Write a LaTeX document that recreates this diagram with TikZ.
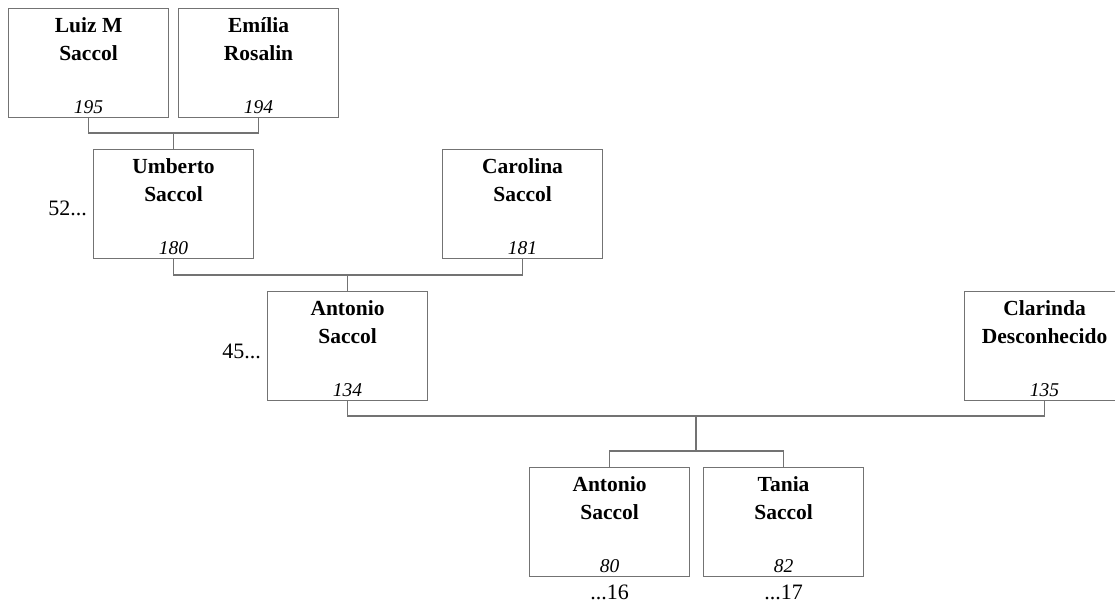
\documentclass[tikz,border=0pt]{standalone}
\usepackage{fontspec}
\setmainfont{Liberation Serif}
\begin{document}
\begin{tikzpicture}[x=1pt,y=-1pt,
  person/.style={draw=gray!90!black, line width=1.1pt, minimum width=160pt, minimum height=109pt, inner sep=0pt, anchor=north west},
  pname/.style={anchor=north, font=\bfseries\fontsize{21.5}{28}\selectfont, align=center, inner sep=0pt},
  pnum/.style={anchor=south, font=\itshape\fontsize{19.5}{20}\selectfont, inner sep=0pt, yshift=4pt},
  side/.style={font=\fontsize{22}{24}\selectfont, inner sep=0pt},
  conn/.style={draw=gray!90!black, line width=1.1pt}]
\useasboundingbox (0,0) rectangle (1115,604);
\node[person] (luiz) at (8,8) {};
\node[person] (emilia) at (178,8) {};
\node[person] (umberto) at (93,149) {};
\node[person] (carolina) at (442,149) {};
\node[person] (antonio) at (267,291) {};
\node[person] (clarinda) at (964,291) {};
\node[person] (antonio2) at (529,467) {};
\node[person] (tania) at (703,467) {};
\foreach \p/\n/\k in {luiz/{Luiz M\\Saccol}/195, emilia/{Emília\\Rosalin}/194, umberto/{Umberto\\Saccol}/180, carolina/{Carolina\\Saccol}/181, antonio/{Antonio\\Saccol}/134, clarinda/{Clarinda\\Desconhecido}/135, antonio2/{Antonio\\Saccol}/80, tania/{Tania\\Saccol}/82}{
  \node[pname] (\p-name) at ([yshift=-9pt]\p.north) {\n};
  \node[pnum] (\p-num) at (\p.south) {\k};
}
\node[side, anchor=east] (s52) at ([xshift=-6pt,yshift=-4pt]umberto.west) {52...};
\node[side, anchor=east] (s45) at ([xshift=-6pt,yshift=-5pt]antonio.west) {45...};
\node[side, anchor=north] (s16) at ([yshift=-8pt]antonio2.south) {...16};
\node[side, anchor=north] (s17) at ([yshift=-8pt]tania.south) {...17};
\coordinate (j1) at (umberto.north |- 0,133);
\coordinate (j2) at (antonio.north |- 0,275);
\coordinate (j3) at (696,416);
\coordinate (j4) at (696,451);
\draw[conn] (luiz.south) |- (j1) -| (emilia.south);
\draw[conn] (j1) -- (umberto.north);
\draw[conn] (umberto.south) |- (j2) -| (carolina.south);
\draw[conn] (j2) -- (antonio.north);
\draw[conn] (antonio.south) |- (j3) -| (clarinda.south);
\draw[conn] (j3) -- (j4);
\draw[conn] (antonio2.north) |- (j4) -| (tania.north);
\end{tikzpicture}
\end{document}
